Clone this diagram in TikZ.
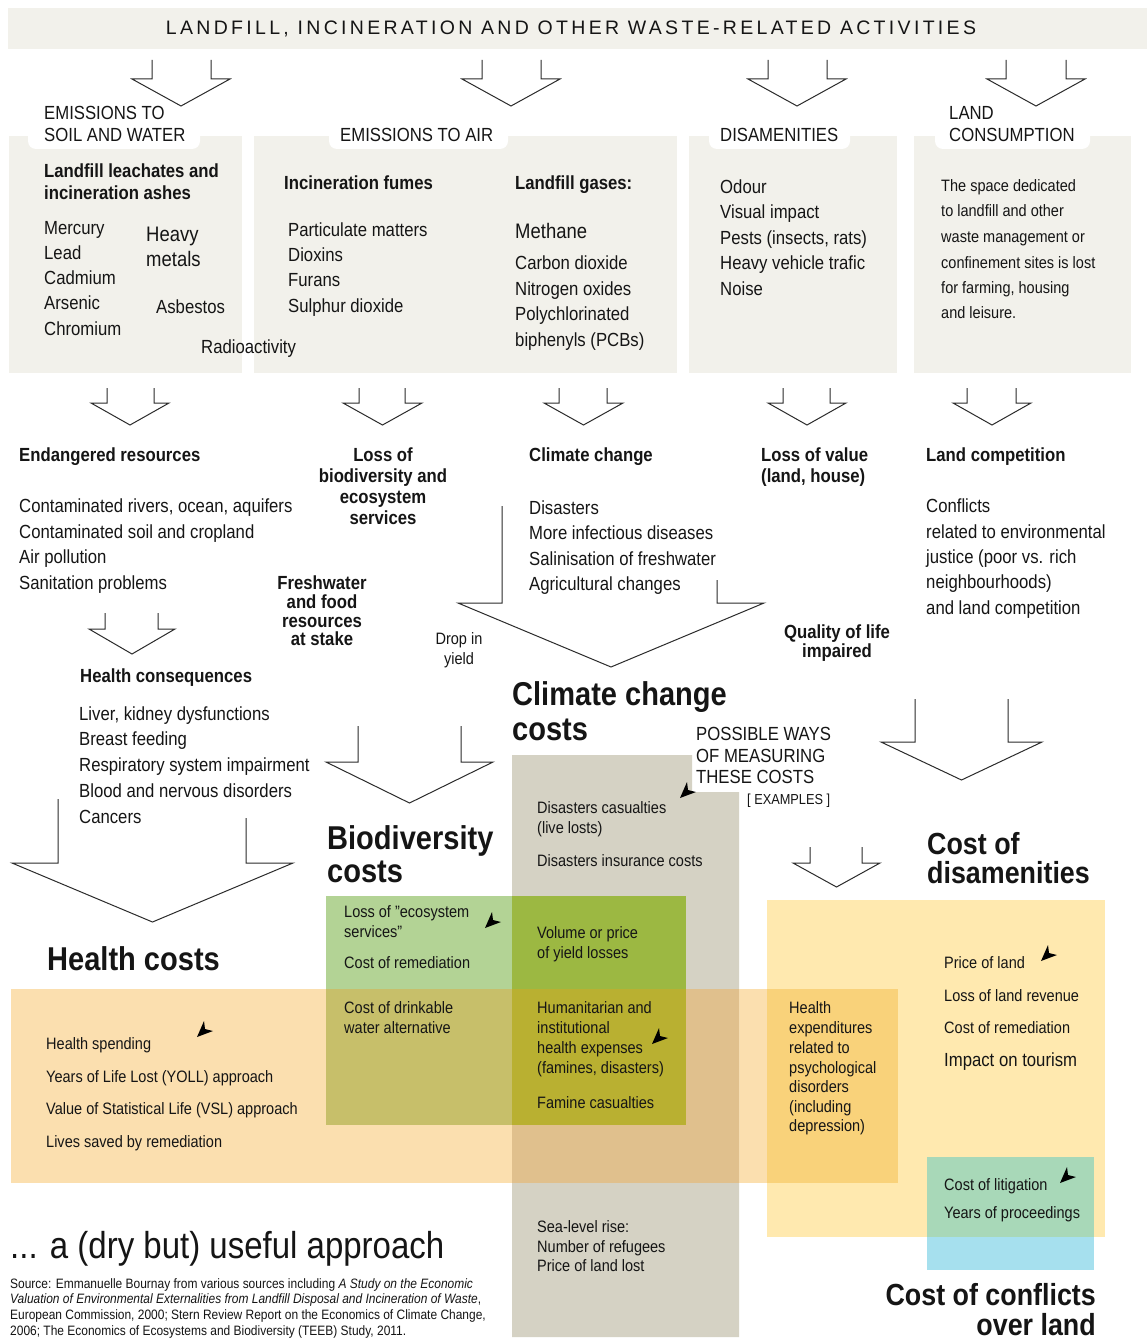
\documentclass[tikz,border=0pt]{standalone}
\usepackage{fontspec}
\setmainfont[FakeStretch=0.88]{Liberation Sans}
\newfontfamily\titlefont[LetterSpace=17]{Liberation Sans}
\definecolor{panel}{HTML}{F2F1EB}
\definecolor{gcol}{HTML}{D5D2C4}
\definecolor{horange}{HTML}{FBDFAF}
\definecolor{ghcol}{HTML}{E0C08D}
\definecolor{bgreen}{HTML}{B3D395}
\definecolor{bgcol}{HTML}{9CB842}
\definecolor{bhcol}{HTML}{C7BF6A}
\definecolor{bghcol}{HTML}{B9B031}
\definecolor{ycol}{HTML}{FFE9AF}
\definecolor{yhcol}{HTML}{F9D27A}
\definecolor{tcol}{HTML}{A6E0EE}
\definecolor{tycol}{HTML}{A8D8B8}
\definecolor{ink}{HTML}{151515}
\definecolor{arrowcol}{HTML}{2B2B2B}
\tikzset{
 tx/.style={anchor=base west, inner sep=0pt, text=ink},
 tc/.style={anchor=base, inner sep=0pt, text=ink},
 te/.style={anchor=base east, inner sep=0pt, text=ink},
 r19/.style={font=\fontsize{19}{22}\selectfont, yshift=-6.8pt},
 r21/.style={font=\fontsize{21}{24}\selectfont, yshift=-7.5pt},
 r16/.style={font=\fontsize{16.5}{19}\selectfont, yshift=-5.9pt},
 r14/.style={font=\fontsize{14.5}{17}\selectfont, yshift=-5.2pt},
 b19/.style={font=\bfseries\fontsize{19}{22}\selectfont, yshift=-6.8pt},
 big/.style={font=\bfseries\fontsize{33}{36}\selectfont},
 bigs/.style={font=\bfseries\fontsize{30.5}{33}\selectfont},
 src/.style={font=\fontsize{13.6}{16}\selectfont, yshift=-4.9pt},
 barrow/.style={draw=arrowcol, line width=1pt},
 dart/.style={fill=black},
 tab/.style={fill=white, rounded corners=8pt},
}
\newcommand\blockarrow[8]{%
 \draw[barrow] (#1,#3) -- (#1,#7) -- (#5,#7) -- ({(#5+#6)/2},#8) -- (#6,#7) -- (#2,#7) -- (#2,#4);}
\newcommand\dartat[2]{%
 \fill[dart] (#1-8,#2+8) -- (#1-1,#2-8) -- (#1,#2) -- (#1+8,#2+2) -- cycle;}
\begin{document}
\begin{tikzpicture}[x=1pt,y=-1pt]
\useasboundingbox (0,0) rectangle (1147,1340);
\fill[white] (0,0) rectangle (1147,1340);
% ---------- title
\fill[panel] (8,8) rectangle (1147,49);
\node[inner sep=0pt, anchor=base, text=ink, font=\titlefont\fontsize{19.5}{22}\selectfont, yshift=-7pt] (title) at (571,28) {LANDFILL, INCINERATION AND OTHER WASTE-RELATED ACTIVITIES};
% ---------- first row arrows
\blockarrow{152}{211}{60}{60}{132}{230}{79}{106}
\blockarrow{482}{541}{60}{60}{462}{560}{79}{106}
\blockarrow{768}{827}{60}{60}{748}{846}{79}{106}
\blockarrow{1006}{1066}{60}{60}{987}{1085}{79}{106}
% ---------- panels
\fill[panel] (9,136) rectangle (242,373);
\fill[panel] (254,136) rectangle (677,373);
\fill[panel] (689,136) rectangle (897,373);
\fill[panel] (914,136) rectangle (1131,373);
\fill[tab] (28,116) rectangle (200,149);
\fill[tab] (329,120) rectangle (508,149);
\fill[tab] (709,120) rectangle (850,149);
\fill[tab] (935,120) rectangle (1090,149);
\node[tx,r19] (h1a) at (44,113) {EMISSIONS TO};
\node[tx,r19] (h1b) at (44,135) {SOIL AND WATER};
\node[tx,r19] (h2) at (340,135) {EMISSIONS TO AIR};
\node[tx,r19] (h3) at (720,135) {DISAMENITIES};
\node[tx,r19] (h4a) at (949,113) {LAND};
\node[tx,r19] (h4b) at (949,135) {CONSUMPTION};
% panel 1
\node[tx,b19] (p1a) at (44,171) {Landfill leachates and};
\node[tx,b19] (p1b) at (44,193) {incineration ashes};
\node[tx,r19] (p1c) at (44,228) {Mercury};
\node[tx,r19] (p1d) at (44,253) {Lead};
\node[tx,r19] (p1e) at (44,278) {Cadmium};
\node[tx,r19] (p1f) at (44,303) {Arsenic};
\node[tx,r19] (p1g) at (44,329) {Chromium};
\node[tx,r21] (p1h) at (146,234) {Heavy};
\node[tx,r21] (p1i) at (146,259) {metals};
\node[tx,r19] (p1j) at (156,307) {Asbestos};
\node[tx,r19] (p1k) at (201,347) {Radioactivity};
% panel 2
\node[tx,b19] (p2a) at (284,183) {Incineration fumes};
\node[tx,r19] (p2b) at (288,230) {Particulate matters};
\node[tx,r19] (p2c) at (288,255) {Dioxins};
\node[tx,r19] (p2d) at (288,280) {Furans};
\node[tx,r19] (p2e) at (288,306) {Sulphur dioxide};
\node[tx,b19] (p2f) at (515,183) {Landfill gases:};
\node[tx,r21] (p2g) at (515,231) {Methane};
\node[tx,r19] (p2h) at (515,263) {Carbon dioxide};
\node[tx,r19] (p2i) at (515,289) {Nitrogen oxides};
\node[tx,r19] (p2j) at (515,314) {Polychlorinated};
\node[tx,r19] (p2k) at (515,340) {biphenyls (PCBs)};
% panel 3
\node[tx,r19] (p3a) at (720,187) {Odour};
\node[tx,r19] (p3b) at (720,212) {Visual impact};
\node[tx,r19] (p3c) at (720,238) {Pests (insects, rats)};
\node[tx,r19] (p3d) at (720,263) {Heavy vehicle trafic};
\node[tx,r19] (p3e) at (720,289) {Noise};
% panel 4
\node[tx,r16] (p4a) at (941,186) {The space dedicated};
\node[tx,r16] (p4b) at (941,211) {to landfill and other};
\node[tx,r16] (p4c) at (941,237) {waste management or};
\node[tx,r16] (p4d) at (941,263) {confinement sites is lost};
\node[tx,r16] (p4e) at (941,288) {for farming, housing};
\node[tx,r16] (p4f) at (941,313) {and leisure.};
% ---------- second row arrows
\blockarrow{107}{154}{388}{388}{91}{169}{403}{425}
\blockarrow{359}{405}{388}{388}{343}{422}{403}{425}
\blockarrow{559}{607}{388}{388}{544}{623}{403}{425}
\blockarrow{783}{830}{388}{388}{768}{846}{403}{425}
\blockarrow{967}{1016}{388}{388}{953}{1031}{403}{425}
% second row texts
\node[tx,b19] (e1) at (19,455) {Endangered resources};
\node[tx,r19] (e2) at (19,506) {Contaminated rivers, ocean, aquifers};
\node[tx,r19] (e3) at (19,532) {Contaminated soil and cropland};
\node[tx,r19] (e4) at (19,557) {Air pollution};
\node[tx,r19] (e5) at (19,583) {Sanitation problems};
\node[tc,b19] (l1) at (383,455) {Loss of};
\node[tc,b19] (l2) at (383,476) {biodiversity and};
\node[tc,b19] (l3) at (383,497) {ecosystem};
\node[tc,b19] (l4) at (383,518) {services};
\node[tx,b19] (c1) at (529,455) {Climate change};
\node[tx,r19] (c2) at (529,508) {Disasters};
\node[tx,r19] (c3) at (529,533) {More infectious diseases};
\node[tx,r19] (c4) at (529,559) {Salinisation of freshwater};
\node[tx,r19] (c5) at (529,584) {Agricultural changes};
\node[tx,b19] (v1) at (761,455) {Loss of value};
\node[tx,b19] (v2) at (761,476) {(land, house)};
\node[tx,b19] (k1) at (926,455) {Land competition};
\node[tx,r19] (k2) at (926,506) {Conflicts};
\node[tx,r19] (k3) at (926,532) {related to environmental};
\node[tx,r19] (k4) at (926,557) {justice (poor vs. rich};
\node[tx,r19] (k5) at (926,582) {neighbourhoods)};
\node[tx,r19] (k6) at (926,608) {and land competition};
\node[tc,b19] (f1) at (322,583) {Freshwater};
\node[tc,b19] (f2) at (322,602) {and food};
\node[tc,b19] (f3) at (322,621) {resources};
\node[tc,b19] (f4) at (322,639) {at stake};
\node[tc,r16] (d1) at (459,639) {Drop in};
\node[tc,r16] (d2) at (459,659) {yield};
\node[tc,b19] (q1) at (837,632) {Quality of life};
\node[tc,b19] (q2) at (837,651) {impaired};
% health consequences
\blockarrow{105}{158}{613}{613}{89}{175}{629}{654}
\node[tx,b19] (hc0) at (80,676) {Health consequences};
\node[tx,r19] (hc1) at (79,714) {Liver, kidney dysfunctions};
\node[tx,r19] (hc2) at (79,739) {Breast feeding};
\node[tx,r19] (hc3) at (79,765) {Respiratory system impairment};
\node[tx,r19] (hc4) at (79,791) {Blood and nervous disorders};
\node[tx,r19] (hc5) at (79,817) {Cancers};
% ---------- big arrows
\blockarrow{502}{717}{506}{580}{458}{764}{603}{667}
\blockarrow{58}{246}{799}{818}{12}{293}{863}{922}
\blockarrow{358}{461}{726}{726}{326}{493}{762}{803}
\blockarrow{915}{1008}{699}{699}{881}{1042}{742}{780}
\blockarrow{810}{862}{847}{847}{793}{880}{863}{887}
% ---------- colour fields
\fill[horange] (11,989) rectangle (898,1183);
\fill[gcol] (512,755) -- (692,755) -- (692,792) -- (739,792) -- (739,1337) -- (512,1337) -- cycle;
\fill[ghcol] (512,989) rectangle (739,1183);
\fill[bgreen] (326,896) rectangle (686,1125);
\fill[bgcol] (512,896) rectangle (686,1125);
\fill[bhcol] (326,989) rectangle (512,1125);
\fill[bghcol] (512,989) rectangle (686,1125);
\fill[ycol] (767,900) rectangle (1105,1237);
\fill[yhcol] (767,989) rectangle (898,1183);
\fill[tcol] (927,1157) rectangle (1094,1270);
\fill[tycol] (927,1157) rectangle (1094,1237);
% ---------- big headings
\node[tx,big] (cc1) at (512,705) {Climate change};
\node[tx,big] (cc2) at (512,740) {costs};
\node[tx,big] (bd1) at (327,849) {Biodiversity};
\node[tx,big] (bd2) at (327,882) {costs};
\node[tx,big] (hcost) at (47,970) {Health costs};
\node[tx,bigs] (ds1) at (927,854) {Cost of};
\node[tx,bigs] (ds2) at (927,883) {disamenities};
\node[te,bigs] (cf1) at (1096,1305) {Cost of conflicts};
\node[te,bigs] (cf2) at (1096,1335) {over land};
\node[tx,font=\fontsize{37.5}{40}\selectfont] (dry) at (10,1258) {... a (dry but) useful approach};
% possible ways
\node[tx,r19] (pw1) at (696,734) {POSSIBLE WAYS};
\node[tx,r19] (pw2) at (696,756) {OF MEASURING};
\node[tx,r19] (pw3) at (696,777) {THESE COSTS};
\node[tx,r14] (pw4) at (747,799) {[ EXAMPLES ]};
% ---------- measuring texts
\node[tx,r16] (m1) at (537,808) {Disasters casualties};
\node[tx,r16] (m2) at (537,828) {(live losts)};
\node[tx,r16] (m3) at (537,861) {Disasters insurance costs};
\node[tx,r16] (m4) at (344,912) {Loss of "ecosystem};
\node[tx,r16] (m5) at (344,932) {services"};
\node[tx,r16] (m6) at (344,963) {Cost of remediation};
\node[tx,r16] (m7) at (537,933) {Volume or price};
\node[tx,r16] (m8) at (537,953) {of yield losses};
\node[tx,r16] (m9) at (944,963) {Price of land};
\node[tx,r16] (m10) at (944,996) {Loss of land revenue};
\node[tx,r16] (m11) at (944,1028) {Cost of remediation};
\node[tx,r19] (m12) at (944,1060) {Impact on tourism};
\node[tx,r16] (m13) at (46,1044) {Health spending};
\node[tx,r16] (m14) at (46,1077) {Years of Life Lost (YOLL) approach};
\node[tx,r16] (m15) at (46,1109) {Value of Statistical Life (VSL) approach};
\node[tx,r16] (m16) at (46,1142) {Lives saved by remediation};
\node[tx,r16] (m17) at (344,1008) {Cost of drinkable};
\node[tx,r16] (m18) at (344,1028) {water alternative};
\node[tx,r16] (m19) at (537,1008) {Humanitarian and};
\node[tx,r16] (m20) at (537,1028) {institutional};
\node[tx,r16] (m21) at (537,1048) {health expenses};
\node[tx,r16] (m22) at (537,1068) {(famines, disasters)};
\node[tx,r16] (m23) at (537,1103) {Famine casualties};
\node[tx,r16] (m24) at (789,1008) {Health};
\node[tx,r16] (m25) at (789,1028) {expenditures};
\node[tx,r16] (m26) at (789,1048) {related to};
\node[tx,r16] (m27) at (789,1068) {psychological};
\node[tx,r16] (m28) at (789,1087) {disorders};
\node[tx,r16] (m29) at (789,1107) {(including};
\node[tx,r16] (m30) at (789,1126) {depression)};
\node[tx,r16] (m31) at (944,1185) {Cost of litigation};
\node[tx,r16] (m32) at (944,1213) {Years of proceedings};
\node[tx,r16] (m33) at (537,1227) {Sea-level rise:};
\node[tx,r16] (m34) at (537,1247) {Number of refugees};
\node[tx,r16] (m35) at (537,1266) {Price of land lost};
% ---------- markers
\dartat{493}{920}
\dartat{205}{1029}
\dartat{688}{790}
\dartat{1049}{953}
\dartat{660}{1036}
\dartat{1068}{1175}
% ---------- source
\node[tx,src] (s1) at (10,1284) {Source: Emmanuelle Bournay from various sources including \textit{A Study on the Economic}};
\node[tx,src] (s2) at (10,1299) {\textit{Valuation of Environmental Externalities from Landfill Disposal and Incineration of Waste},};
\node[tx,src] (s3) at (10,1315) {European Commission, 2000; Stern Review Report on the Economics of Climate Change,};
\node[tx,src] (s4) at (10,1331) {2006; The Economics of Ecosystems and Biodiversity (TEEB) Study, 2011.};
\end{tikzpicture}
\end{document}
